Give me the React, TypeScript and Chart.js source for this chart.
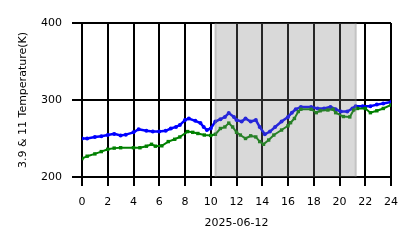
import React, { useEffect, useRef } from "react";
import { Chart, registerables } from "chart.js";

Chart.register(...registerables);

const blueHours = [0, 0.4, 1.0, 1.5, 2.0, 2.5, 3.0, 3.4, 4.0, 4.4, 5.0, 5.5, 6.0, 6.5, 6.9, 7.3, 7.6, 8.0, 8.3, 8.8, 9.2, 9.45, 9.7, 10.0, 10.36, 10.75, 11.1, 11.4, 11.8, 12.0, 12.4, 12.7, 13.1, 13.5, 13.8, 14.2, 14.6, 15.0, 15.5, 16.0, 16.3, 16.6, 17.0, 17.8, 18.3, 18.8, 19.3, 19.7, 20.1, 20.6, 21.0, 21.25, 21.8, 22.4, 22.9, 23.4, 24.0];
const blueValues = [250, 250, 252, 253, 254.5, 256, 254, 255, 258, 262, 260, 259, 259, 260, 263, 265, 267.5, 274, 276, 273, 270, 265, 261, 263, 272, 275, 278, 283, 278, 274, 272, 276, 272, 274, 265, 255.5, 259, 265, 272, 278, 283.5, 288, 291, 291, 289, 289, 291, 288, 285, 285, 289, 292, 292, 292, 294, 295.5, 297.5];

const greenHours = [0, 0.4, 1.0, 1.5, 2.0, 2.5, 3.0, 4.0, 4.5, 5.0, 5.4, 5.7, 6.2, 6.7, 7.2, 7.6, 8.2, 8.6, 9.0, 9.5, 10.0, 10.36, 10.75, 11.1, 11.4, 11.7, 12.0, 12.3, 12.7, 13.1, 13.5, 13.8, 14.1, 14.5, 14.9, 15.5, 16.0, 16.2, 16.5, 16.8, 17.0, 17.8, 18.2, 18.5, 19.1, 19.5, 19.7, 20.3, 20.8, 21.1, 21.4, 22.0, 22.4, 22.9, 23.4, 24.0];
const greenValues = [224, 227, 230, 233, 236, 237.5, 238, 238, 238, 240, 242.5, 240, 240.5, 246, 249, 252, 259, 258, 256.5, 254.5, 254, 255.5, 263, 265, 270, 265, 258, 254.5, 250, 253.5, 252, 246, 242.5, 248, 254.5, 261, 266.5, 270.5, 276, 285, 288, 288, 283.5, 286, 287, 288, 283.5, 278.5, 278, 287, 289, 289, 283.5, 286, 289, 293.5];

const shadeStartHour = 10.3;
const shadeEndHour = 21.33;

const xTitle = "2025-06-12";
const yTitle = "3.9 & 11 Temperature(K)";

const FONT = "'DejaVu Sans', sans-serif";

const shadePlugin = {
  id: "shade",
  afterDatasetsDraw(chart: any) {
    const { ctx, chartArea, scales } = chart;
    const x0 = scales.x.getPixelForValue(shadeStartHour);
    const x1 = scales.x.getPixelForValue(shadeEndHour);
    ctx.save();
    ctx.fillStyle = "rgba(128,128,128,0.3)";
    ctx.fillRect(x0, chartArea.top, x1 - x0, chartArea.bottom - chartArea.top);
    ctx.strokeStyle = "rgba(128,128,128,0.25)";
    ctx.lineWidth = 2;
    ctx.beginPath();
    ctx.moveTo(x0 + 1, chartArea.top);
    ctx.lineTo(x0 + 1, chartArea.bottom);
    ctx.moveTo(x1 - 1, chartArea.top);
    ctx.lineTo(x1 - 1, chartArea.bottom);
    ctx.stroke();
    ctx.restore();
  },
};

export default function App() {
  const ref = useRef<HTMLCanvasElement>(null);
  useEffect(() => {
    if (!ref.current) return;
    Chart.defaults.font.family = FONT;
    Chart.defaults.color = "#000";
    const chart = new Chart(ref.current, {
      type: "line",
      data: {
        datasets: [
          {
            label: "11",
            data: greenHours.map((h, i) => ({ x: h, y: greenValues[i] })),
            borderColor: "#008000",
            backgroundColor: "#008000",
            borderWidth: 2,
            pointStyle: "rect",
            pointRadius: 2.4,
            pointBorderWidth: 0,
            tension: 0,
          },
          {
            label: "3.9",
            data: blueHours.map((h, i) => ({ x: h, y: blueValues[i] })),
            borderColor: "#0000ff",
            backgroundColor: "#0000ff",
            borderWidth: 2.5,
            pointStyle: "circle",
            pointRadius: 2,
            pointBorderWidth: 0,
            tension: 0,
          },
        ],
      },
      options: {
        responsive: false,
        animation: false,
        devicePixelRatio: 1,
        layout: { padding: { top: 23, right: 27, left: 0, bottom: 0 } },
        plugins: { legend: { display: false }, tooltip: { enabled: false } },
        scales: {
          x: {
            type: "linear",
            min: 0,
            max: 24,
            afterFit: (s: any) => {
              s.height = 71;
            },
            ticks: { stepSize: 2, padding: 10, font: { size: 11, family: FONT }, color: "#000", maxRotation: 0 },
            grid: { color: "#000", lineWidth: 2, tickLength: 9, tickWidth: 2, tickColor: "#000" },
            border: { display: false },
            title: { display: true, text: xTitle, font: { size: 11, family: FONT }, color: "#000", padding: { top: 0, bottom: 18 } },
          },
          y: {
            type: "linear",
            min: 200,
            max: 400,
            afterFit: (s: any) => {
              s.width = 82;
            },
            ticks: { stepSize: 100, padding: 10, font: { size: 11, family: FONT }, color: "#000" },
            grid: { color: "#000", lineWidth: 2, tickLength: 10, tickWidth: 2, tickColor: "#000" },
            border: { display: false },
            title: { display: true, text: yTitle, font: { size: 11, family: FONT }, color: "#000", padding: { top: 17, bottom: 0 } },
          },
        },
      },
      plugins: [shadePlugin],
    });
    return () => chart.destroy();
  }, []);
  return (
    <div style={{ position: "fixed", left: 0, top: 0, width: 418, height: 248, background: "#fff" }}>
      <canvas ref={ref} width={418} height={248} style={{ width: 418, height: 248, display: "block" }} />
    </div>
  );
}
